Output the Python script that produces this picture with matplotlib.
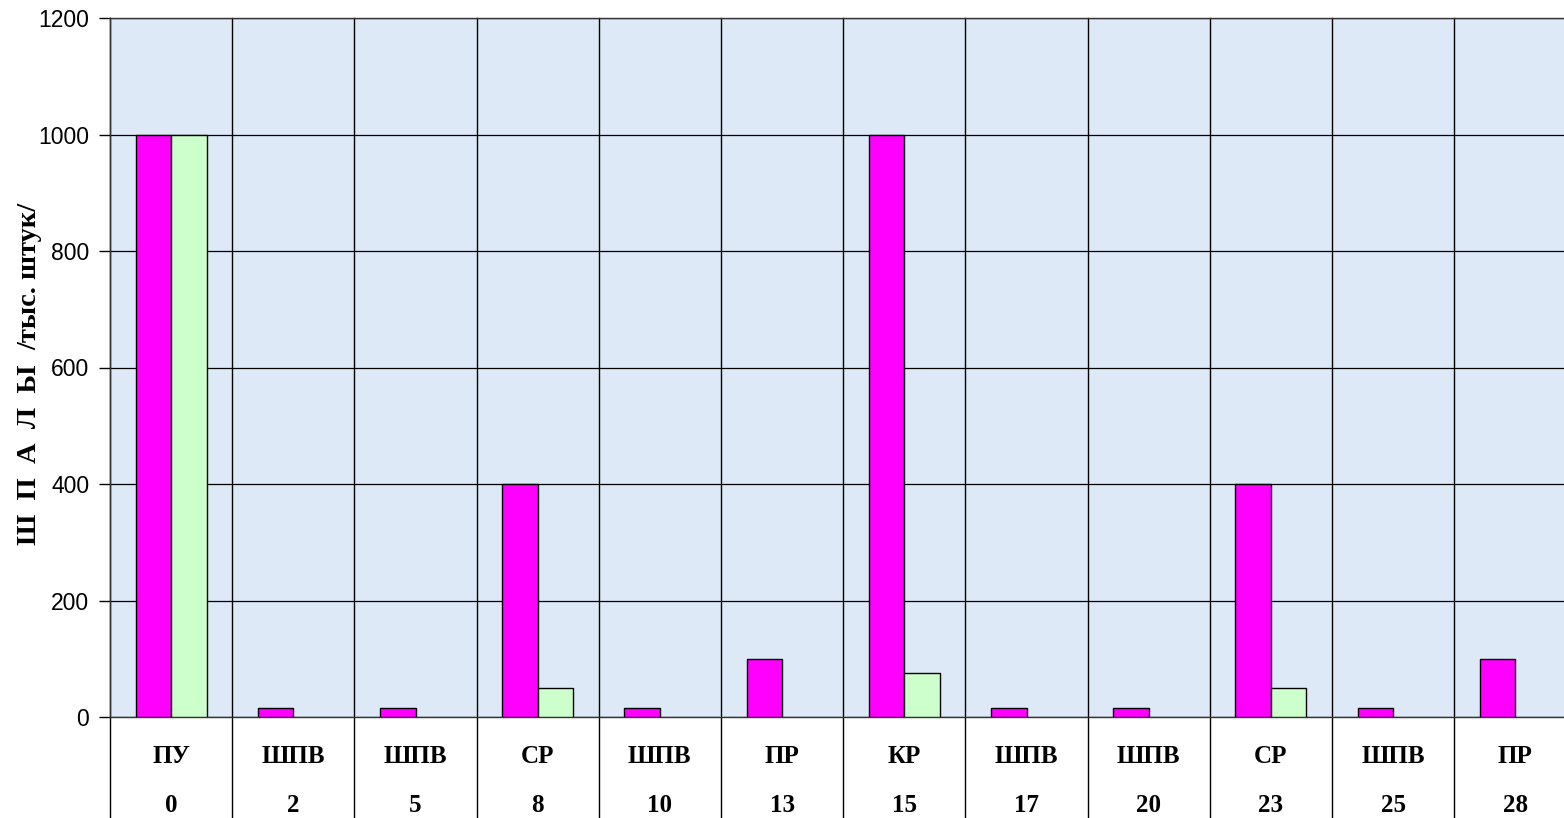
import numpy as np
import matplotlib
matplotlib.use("Agg")
import matplotlib.pyplot as plt
import matplotlib.transforms as mtransforms

codes = ["ПУ", "ШПВ", "ШПВ", "СР", "ШПВ", "ПР", "КР", "ШПВ", "ШПВ", "СР", "ШПВ", "ПР"]
hours = ["0", "2", "5", "8", "10", "13", "15", "17", "20", "23", "25", "28"]
series_a = [1000, 15, 15, 400, 15, 100, 1000, 15, 15, 400, 15, 100]
series_b = [1000, 0, 0, 50, 0, 0, 75, 0, 0, 50, 0, 0]

fig = plt.figure(figsize=(15.64, 8.18), dpi=100)
ax = fig.add_axes([110 / 1564, 1 - 717 / 818, 12 * 122.2 / 1564, (717 - 18) / 818])
ax.set_facecolor("#dde9f7")

x = np.arange(len(codes))
a = np.array(series_a)
b = np.array(series_b)
w = 0.29
ax.bar(x[a > 0] - w / 2, a[a > 0], w, color="#ff00ff", edgecolor="black", linewidth=1, zorder=3)
ax.bar(x[b > 0] + w / 2, b[b > 0], w, color="#ccffcc", edgecolor="black", linewidth=1, zorder=3)

ax.set_xlim(-0.5, len(codes) - 0.5)
ax.set_ylim(0, 1200)
ax.set_yticks(range(0, 1201, 200))
ax.yaxis.grid(True, color="black", linewidth=0.9, zorder=1)
ax.tick_params(axis="y", direction="out", length=8, width=1, labelsize=16.5, pad=7)
for lab in ax.get_yticklabels():
    lab.set_family("Liberation Sans")
ax.set_xticks([])
for s in ax.spines.values():
    s.set_color("#333333")
    s.set_linewidth(1)
ax.spines["right"].set_visible(False)

# category separators, running down through the label area
trans = mtransforms.blended_transform_factory(ax.transData, ax.transAxes)
for bnd in np.arange(-0.5, len(codes), 1.0):
    ax.plot([bnd, bnd], [-0.15, 1.0], transform=trans, color="black", linewidth=1,
            clip_on=False, zorder=2)

for i in range(len(codes)):
    ax.text(i, -0.057, codes[i], transform=trans, ha="center", va="center",
            fontsize=18, fontweight="bold", family="Liberation Serif")
    ax.text(i, -0.126, hours[i], transform=trans, ha="center", va="center",
            fontsize=18, fontweight="bold", family="Liberation Serif")

fig.text(30 / 1564, 1 - 545 / 818, "Ш  П  А  Л  Ы", rotation=90, ha="center", va="bottom",
         fontsize=20.5, fontweight="bold", family="Liberation Serif")
fig.text(30 / 1564, 1 - 350 / 818, "/тыс. штук/", rotation=90, ha="center", va="bottom",
         fontsize=20.5, fontweight="bold", family="Liberation Serif")

fig.savefig("out.png", dpi=100)
